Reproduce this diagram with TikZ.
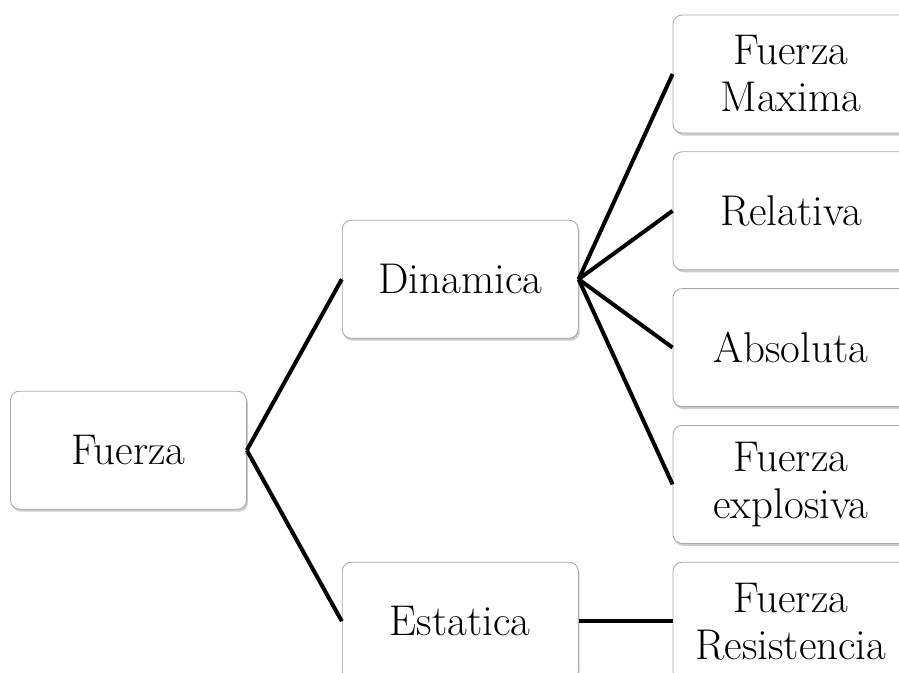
\documentclass[tikz,border=0pt]{standalone}
\usepackage{tikz}
\usetikzlibrary{positioning, calc, shadows}

\begin{document}
\begin{tikzpicture}[
  node distance=18pt,
  font=\fontsize{43}{47}\selectfont,
  box/.style={rectangle, draw=gray!70, line width=0.8pt, fill=white, minimum width=236pt, minimum height=118pt, align=center, rounded corners=9pt,
    drop shadow={shadow xshift=1.5pt, shadow yshift=-2.5pt, fill=black!40, opacity=0.5}},
  link/.style={line width=4pt, black}
]
\useasboundingbox (0,0) rectangle (899pt,-672pt);

\node[box] (maxima) at (791pt,-74pt) {Fuerza\\Maxima};
\node[box, below=of maxima] (relativa) {Relativa};
\node[box, below=of relativa] (absoluta) {Absoluta};
\node[box, below=of absoluta] (explosiva) {Fuerza\\explosiva};
\node[box, below=of explosiva] (resistencia) {Fuerza\\Resistencia};

\node[box, left=94pt of $(relativa.west)!0.5!(absoluta.west)$] (dinamica) {Dinamica};
\node[box, left=94pt of resistencia] (estatica) {Estatica};
\node[box, left=95pt of $(dinamica.west)!0.5!(estatica.west)$] (fuerza) {Fuerza};

\draw[link] (fuerza.east) -- (dinamica.west);
\draw[link] (fuerza.east) -- (estatica.west);
\draw[link] (dinamica.east) -- (maxima.west);
\draw[link] (dinamica.east) -- (relativa.west);
\draw[link] (dinamica.east) -- (absoluta.west);
\draw[link] (dinamica.east) -- (explosiva.west);
\draw[link] (estatica.east) -- (resistencia.west);
\end{tikzpicture}
\end{document}
